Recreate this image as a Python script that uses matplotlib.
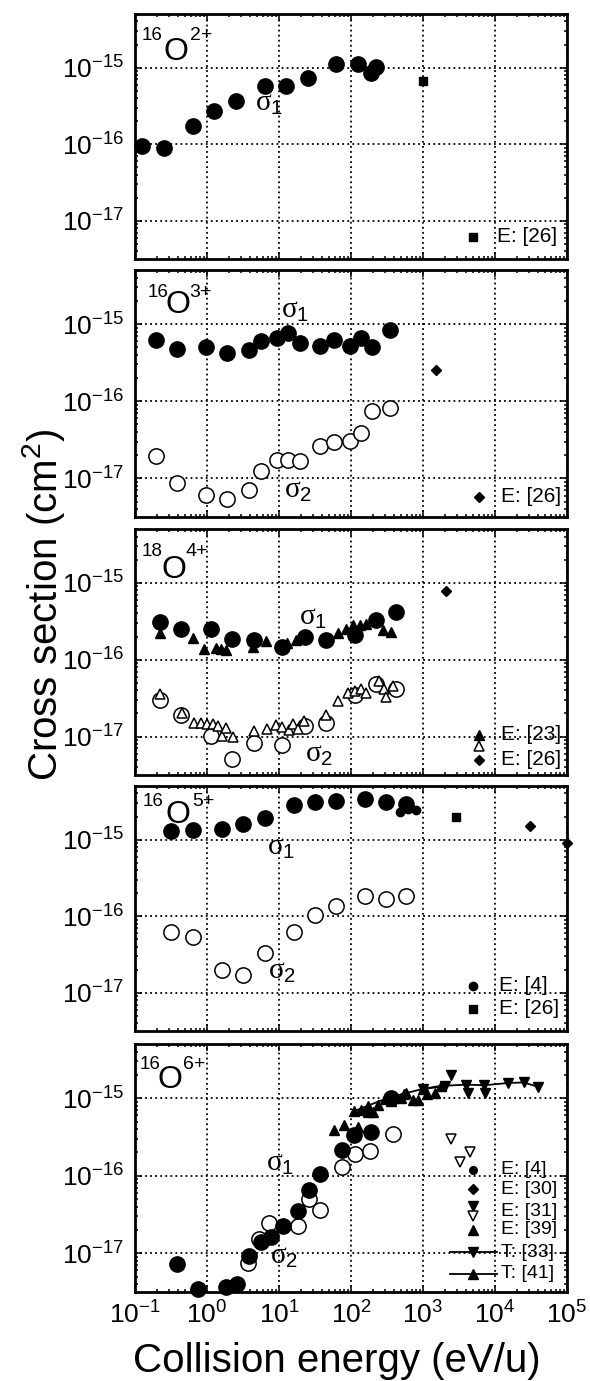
import matplotlib
matplotlib.use('Agg')
import matplotlib.pyplot as plt
from matplotlib.ticker import LogLocator, NullFormatter

plt.rcParams['font.family'] = ['Liberation Sans', 'DejaVu Sans']
plt.rcParams['mathtext.fontset'] = 'custom'
plt.rcParams['mathtext.rm'] = 'Liberation Sans'
plt.rcParams['mathtext.it'] = 'Liberation Serif'
plt.rcParams['mathtext.default'] = 'regular'
plt.rcParams['axes.unicode_minus'] = False

# ---- O2+ ----
o2_E = [0.126, 0.253, 0.64, 1.25, 2.5, 6.3, 12.6, 25, 62, 125, 187, 225]
o2_s1 = [9.5e-17, 9.0e-17, 1.73e-16, 2.7e-16, 3.66e-16, 5.75e-16, 5.75e-16, 7.4e-16,
         1.1e-15, 1.1e-15, 8.6e-16, 1.03e-15]
o2_e26_E = [1000]
o2_e26_s = [6.6e-16]

# ---- O3+ ----
o3_E = [0.194, 0.383, 0.97, 1.92, 3.83, 5.7, 9.4, 13.5, 19.4, 37, 58, 96, 136, 195, 344]
o3_s1 = [6.2e-16, 4.74e-16, 5.08e-16, 4.17e-16, 4.6e-16, 6.1e-16, 6.6e-16, 7.6e-16,
         5.6e-16, 5.24e-16, 6.2e-16, 5.24e-16, 6.5e-16, 5.1e-16, 8.36e-16]
o3_s2 = [1.97e-17, 8.6e-18, 6.1e-18, 5.4e-18, 7.1e-18, 1.26e-17, 1.75e-17, 1.75e-17,
         1.7e-17, 2.65e-17, 3.0e-17, 3.08e-17, 3.83e-17, 7.5e-17, 8.1e-17]
o3_e26_E = [1530]
o3_e26_s = [2.56e-16]

# ---- O4+ ----
o4_E = [0.22, 0.44, 1.13, 2.25, 4.5, 11.1, 22.7, 45.4, 112, 224, 420]
o4_s1 = [3.1e-16, 2.53e-16, 2.53e-16, 1.88e-16, 1.82e-16, 1.46e-16, 1.98e-16, 1.82e-16,
         2.12e-16, 3.26e-16, 4.19e-16]
o4_s2 = [2.95e-17, 1.88e-17, 1.03e-17, 5.1e-18, 8.2e-18, 7.8e-18, 1.36e-17, 1.5e-17,
         3.43e-17, 4.77e-17, 4.1e-17]
o4_e23_s1_E = [0.22, 0.64, 0.91, 1.32, 1.58, 1.86, 4.36, 6.7, 10.2, 13, 17.4, 66, 86,
               107, 132, 163, 277, 363]
o4_e23_s1 = [2.25e-16, 1.94e-16, 1.36e-16, 1.43e-16, 1.39e-16, 1.32e-16, 1.46e-16, 1.74e-16,
             1.54e-16, 1.65e-16, 1.79e-16, 2.25e-16, 2.53e-16, 2.8e-16, 2.8e-16, 2.95e-16,
             2.41e-16, 2.29e-16]
o4_e23_s2_E = [0.22, 0.45, 0.67, 0.83, 1.01, 1.21, 1.42, 1.63, 1.82, 2.3, 4.5, 6.9, 9.0,
               11.1, 13.8, 15.6, 18.4, 22.2, 45.4, 66, 91, 112, 139, 163, 245, 287, 302, 383]
o4_e23_s2 = [3.53e-17, 2.0e-17, 1.49e-17, 1.49e-17, 1.46e-17, 1.46e-17, 1.39e-17, 1.03e-17,
             1.3e-17, 1.0e-17, 1.17e-17, 1.26e-17, 1.42e-17, 1.35e-17, 1.2e-17, 1.44e-17,
             1.26e-17, 1.58e-17, 1.88e-17, 2.89e-17, 3.67e-17, 3.9e-17, 4.1e-17, 3.7e-17,
             5.27e-17, 4.19e-17, 3.26e-17, 4.6e-17]
o4_e26_E = [2110]
o4_e26_s = [7.9e-16]

# ---- O5+ ----
o5_E = [0.32, 0.64, 1.63, 3.16, 6.3, 16, 31.3, 62.5, 157, 310, 580]
o5_s1 = [1.28e-15, 1.32e-15, 1.39e-15, 1.58e-15, 1.92e-15, 2.81e-15, 3.1e-15, 3.17e-15,
         3.37e-15, 3.1e-15, 2.95e-15]
o5_s2 = [6.3e-17, 5.3e-17, 1.96e-17, 1.69e-17, 3.33e-17, 6.2e-17, 1.03e-16, 1.35e-16,
         1.85e-16, 1.67e-16, 1.85e-16]
o5_e4_E = [484, 560, 618, 807]
o5_e4_s = [2.3e-15, 2.6e-15, 2.54e-15, 2.41e-15]
o5_e26_E = [2844]
o5_e26_s = [1.98e-15]
o5_dia_E = [31000, 1.0e5]
o5_dia_s = [1.49e-15, 8.9e-16]

# ---- O6+ ----
o6_s1_E = [0.38, 0.74, 1.84, 2.6, 3.79, 5.6, 7.7, 11.2, 18.2, 26.4, 37.5, 74, 111, 190, 365]
o6_s1 = [7.2e-18, 3.5e-18, 3.7e-18, 4.0e-18, 9.1e-18, 1.38e-17, 1.6e-17, 2.27e-17, 3.5e-17,
         6.5e-17, 1.05e-16, 2.12e-16, 3.33e-16, 3.67e-16, 1.0e-15]
o6_s2_E = [3.67, 5.33, 7.3, 18.2, 26.4, 37.5, 74, 115, 186, 379]
o6_s2 = [7.4e-18, 1.52e-17, 2.46e-17, 2.23e-17, 5.06e-17, 3.6e-17, 1.29e-16, 1.92e-16,
         2.06e-16, 3.5e-16]
o6_e39_E = [58, 81, 124, 138, 170, 201, 234, 360, 492, 585, 717, 850, 1120, 1450]
o6_e39_s = [3.9e-16, 4.5e-16, 4.27e-16, 7.0e-16, 6.6e-16, 6.7e-16, 8.2e-16, 9.1e-16,
            1.0e-15, 1.17e-15, 9.5e-16, 9.5e-16, 1.15e-15, 1.16e-15]
o6_e31_E = [2480, 4240, 7230]
o6_e31_s = [2.0e-15, 1.18e-15, 1.18e-15]
o6_e31o_E = [2480, 3240, 4470]
o6_e31o_s = [3.0e-16, 1.49e-16, 2.0e-16]
o6_t33_E = [1000, 2000, 4000, 7000, 15000, 25000, 40000]
o6_t33_s = [1.3e-15, 1.45e-15, 1.5e-15, 1.47e-15, 1.57e-15, 1.6e-15, 1.4e-15]
o6_t41_E = [110, 170, 300, 550, 1000, 1800]
o6_t41_s = [6.8e-16, 8.0e-16, 9.8e-16, 1.15e-15, 1.32e-15, 1.45e-15]

W, H = 590, 1381
fig = plt.figure(figsize=(W / 100, H / 100), dpi=100)
panels_px = [(14, 259), (270, 517), (529, 775), (786, 1031), (1044, 1292)]
axes = []
for t, b in panels_px:
    axes.append(fig.add_axes([135 / W, 1 - b / H, 432 / W, (b - t) / H]))


def setup(ax, last):
    ax.set_xscale('log')
    ax.set_yscale('log')
    ax.set_xlim(1e-1, 1e5)
    ax.set_ylim(10 ** -17.5, 10 ** -14.3)
    ax.set_yticks([1e-17, 1e-16, 1e-15])
    ax.xaxis.set_major_locator(LogLocator(base=10, numticks=10))
    ax.xaxis.set_minor_locator(LogLocator(base=10, subs=range(2, 10), numticks=20))
    ax.yaxis.set_minor_locator(LogLocator(base=10, subs=range(2, 10), numticks=20))
    ax.xaxis.set_minor_formatter(NullFormatter())
    ax.yaxis.set_minor_formatter(NullFormatter())
    ax.set_axisbelow(True)
    ax.grid(True, which='major', color='k', ls=(0, (1, 1.8)), lw=1.3)
    ax.tick_params(which='both', direction='in', top=True, right=True, width=1.1)
    ax.tick_params(which='major', length=5, labelsize=19)
    ax.tick_params(axis='y', which='major', pad=8)
    ax.tick_params(axis='x', which='major', pad=7)
    ax.tick_params(which='minor', length=2.5)
    if not last:
        ax.tick_params(labelbottom=False)
    for s in ax.spines.values():
        s.set_linewidth(2.0)


def title(ax, mass, charge, x16, xO, xc, ytop, ybase):
    ax.text(x16, ytop, mass, transform=ax.transAxes, fontsize=13.5, va='top')
    ax.text(xO, ybase, 'O', transform=ax.transAxes, fontsize=23, va='baseline')
    ax.text(xc, ytop, charge, transform=ax.transAxes, fontsize=14, va='top')


def sig(ax, n, x, y):
    ax.text(x, y, r'$\mathit{\sigma}_{1}$'.replace('1', n), transform=ax.transAxes,
            fontsize=21, ha='center', va='center')


def leg_mark(ax, x, y, **kw):
    ax.plot([x], [y], transform=ax.transAxes, clip_on=False, color='k', ls='none', **kw)


def leg_text(ax, x, y, s, fs=15):
    ax.text(x, y, s, transform=ax.transAxes, fontsize=fs, ha='left', va='center')


big = dict(ls='none', marker='o', ms=11, clip_on=False)
fill = dict(color='k', **big)
hollow = dict(mfc='white', mec='k', mew=1.1, **big)

for i, ax in enumerate(axes):
    setup(ax, i == 4)

# panel 1
ax = axes[0]
ax.plot(o2_E, o2_s1, **fill)
ax.plot(o2_e26_E, o2_e26_s, 'ks', ms=6)
title(ax, '16', '2+', 0.015, 0.066, 0.127, 0.945, 0.812)
sig(ax, '1', 0.31, 0.637)
leg_mark(ax, 0.782, 0.090, marker='s', ms=6)
leg_text(ax, 0.838, 0.090, 'E: [26]')

# panel 2
ax = axes[1]
ax.plot(o3_E, o3_s1, **fill)
ax.plot(o3_E, o3_s2, **hollow)
ax.plot(o3_e26_E, o3_e26_s, 'kD', ms=5)
title(ax, '16', '3+', 0.03, 0.071, 0.125, 0.945, 0.826)
sig(ax, '1', 0.37, 0.838)
sig(ax, '2', 0.377, 0.109)
leg_mark(ax, 0.796, 0.081, marker='D', ms=5)
leg_text(ax, 0.848, 0.081, 'E: [26]')

# panel 3
ax = axes[2]
ax.plot(o4_e23_s1_E, o4_e23_s1, 'k^', ms=6.5, clip_on=False)
ax.plot(o4_E, o4_s1, **fill)
ax.plot(o4_E, o4_s2, **hollow)
ax.plot(o4_e23_s2_E, o4_e23_s2, ls='none', marker='^', ms=6.5, mfc='white', mec='k', mew=1.1)
ax.plot(o4_e26_E, o4_e26_s, 'kD', ms=5)
title(ax, '18', '4+', 0.015, 0.062, 0.118, 0.945, 0.80)
sig(ax, '1', 0.412, 0.642)
sig(ax, '2', 0.426, 0.085)
leg_mark(ax, 0.796, 0.163, marker='^', ms=6.5)
leg_mark(ax, 0.796, 0.118, marker='^', ms=6.5, mfc='white', mew=1.1)
leg_mark(ax, 0.796, 0.063, marker='D', ms=5)
leg_text(ax, 0.848, 0.163, 'E: [23]')
leg_text(ax, 0.848, 0.063, 'E: [26]')

# panel 4
ax = axes[3]
ax.plot(o5_E, o5_s1, **fill)
ax.plot(o5_E, o5_s2, **hollow)
ax.plot(o5_e4_E, o5_e4_s, 'ko', ms=6, clip_on=False)
ax.plot(o5_e26_E, o5_e26_s, 'ks', ms=6)
ax.plot(o5_dia_E, o5_dia_s, 'kD', ms=5, clip_on=False)
title(ax, '16', '5+', 0.0185, 0.071, 0.132, 0.972, 0.849)
sig(ax, '1', 0.338, 0.751)
sig(ax, '2', 0.34, 0.245)
leg_mark(ax, 0.782, 0.184, marker='o', ms=6)
leg_mark(ax, 0.782, 0.090, marker='s', ms=6)
leg_text(ax, 0.843, 0.184, 'E: [4]')
leg_text(ax, 0.843, 0.090, 'E: [26]')

# panel 5
ax = axes[4]
ax.plot(o6_t41_E, o6_t41_s, 'k-^', ms=6.5, lw=1.3)
ax.plot(o6_t33_E, o6_t33_s, 'k-v', ms=6.5, lw=1.3)
ax.plot(o6_e39_E, o6_e39_s, 'k^', ms=6.5)
ax.plot(o6_e31_E, o6_e31_s, 'kv', ms=6.5)
ax.plot(o6_e31o_E, o6_e31o_s, ls='none', marker='v', ms=6.5, mfc='white', mec='k', mew=1.1)
ax.plot(o6_s2_E, o6_s2, **hollow)
ax.plot(o6_s1_E, o6_s1, **fill)
title(ax, '16', '6+', 0.01, 0.052, 0.11, 0.952, 0.823)
sig(ax, '1', 0.335, 0.52)
sig(ax, '2', 0.345, 0.145)
leg_mark(ax, 0.782, 0.492, marker='o', ms=5.5)
leg_mark(ax, 0.782, 0.415, marker='D', ms=5)
leg_mark(ax, 0.782, 0.345, marker='v', ms=6.5)
leg_mark(ax, 0.782, 0.305, marker='v', ms=6.5, mfc='white', mew=1.1)
leg_mark(ax, 0.782, 0.250, marker='^', ms=6.5)
ax.plot([0.729, 0.838], [0.161, 0.161], 'k-', transform=ax.transAxes, lw=1.3, clip_on=False)
leg_mark(ax, 0.782, 0.161, marker='v', ms=6.5)
ax.plot([0.729, 0.838], [0.073, 0.073], 'k-', transform=ax.transAxes, lw=1.3, clip_on=False)
leg_mark(ax, 0.782, 0.073, marker='^', ms=6.5)
for y, s in [(0.492, 'E: [4]'), (0.415, 'E: [30]'), (0.325, 'E: [31]'),
             (0.250, 'E: [39]'), (0.161, 'T: [33]'), (0.073, 'T: [41]')]:
    leg_text(ax, 0.847, y, s, fs=14)

fig.text(44 / W, 1 - 605 / H, 'Cross section (cm$^2$)', rotation=90, fontsize=29,
         ha='center', va='center')
fig.text(337 / W, 1 - 1372 / H, 'Collision energy (eV/u)', fontsize=29,
         ha='center', va='baseline')

fig.savefig('out.png', dpi=100)
